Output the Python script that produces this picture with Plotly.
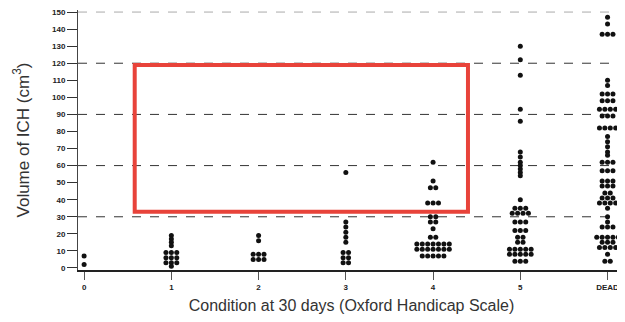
import plotly.graph_objects as go

# ---- data ----
categories = ["0", "1", "2", "3", "4", "5", "DEAD"]

vol_0 = [7, 2]
vol_1 = [19, 17, 15, 13, 9, 9, 9, 6, 6, 6, 3, 3, 3, 1]
vol_2 = [19, 16, 8, 8, 8, 5, 5, 5]
vol_3 = [56, 27, 24, 21, 18, 15, 9, 9, 6, 6, 3, 3]
vol_4 = [62, 51, 47, 47, 38, 38, 38, 30, 30, 27, 27, 23, 18, 18,
         14, 14, 14, 14, 14, 14, 14, 11, 11, 11, 11, 11, 11, 11,
         7, 7, 7, 7, 7]
vol_5 = [130, 122, 113, 93, 86, 68, 65, 62, 60, 58, 56, 54, 40,
         35, 35, 35, 32, 32, 32, 32, 27, 27, 27, 22, 22, 22, 18, 18,
         15, 15, 11, 11, 11, 11, 11, 8, 8, 8, 8, 8, 4, 4, 4]
vol_dead = [147, 143, 137, 137, 137, 110, 107, 102, 102, 102, 98, 98, 98,
            93, 93, 93, 93, 89, 89, 89, 82, 82, 82, 82, 77, 74, 71, 68, 66,
            62, 62, 62, 57, 57, 57, 51, 51, 51, 48, 48, 48, 44, 44,
            41, 41, 41, 38, 38, 38, 38, 35, 30, 27, 24, 24, 24,
            18, 18, 18, 18, 18, 15, 15, 15, 12, 12, 12, 12, 8, 4, 4]

groups = [vol_0, vol_1, vol_2, vol_3, vol_4, vol_5, vol_dead]

grid_values = [30, 60, 90, 120, 150]
y_ticks = list(range(0, 151, 10))

# highlight box (data coords)
box_x = [0.58, 4.40]
box_y = [33, 119]

# ---- dot-plot layout: rows of equal values spread horizontally ----
xs, ys = [], []
step = 0.062
for gi, vals in enumerate(groups):
    rows = {}
    for v in vals:
        rows.setdefault(v, 0)
        rows[v] += 1
    for v, n in rows.items():
        for k in range(n):
            xs.append(gi + (k - (n - 1) / 2) * step)
            ys.append(v)

fig = go.Figure()
fig.add_trace(go.Scatter(
    x=xs, y=ys, mode="markers",
    marker=dict(color="#111111", size=5, line=dict(width=0)),
    showlegend=False, hoverinfo="skip"))

for g in grid_values:
    fig.add_shape(type="line", xref="paper", yref="y",
                  x0=0, x1=1, y0=g, y1=g,
                  line=dict(color="#333333" if g < 150 else "#aaaaaa",
                            width=1, dash="dash"), layer="below")

fig.add_shape(type="rect", xref="x", yref="y",
              x0=box_x[0], x1=box_x[1], y0=box_y[0], y1=box_y[1],
              line=dict(color="#e8433a", width=4), fillcolor="rgba(0,0,0,0)")

fig.update_layout(
    width=617, height=314,
    margin=dict(l=70, r=0, t=2, b=52),
    paper_bgcolor="white", plot_bgcolor="white",
    font=dict(family="Liberation Sans, Arial, sans-serif", color="#222222"),
    xaxis=dict(
        range=[-0.07, 6.2], showgrid=False, zeroline=False, automargin=False,
        tickvals=list(range(len(categories))),
        ticktext=["<b>%s</b>" % c for c in categories],
        ticks="outside", ticklen=8, tickcolor="#555555",
        tickfont=dict(size=8, color="#222222"),
        ticklabeloverflow="allow",
        showline=True, linecolor="#222222", linewidth=2,
        title=dict(text="Condition at 30 days (Oxford Handicap Scale)",
                   font=dict(size=16, color="#333333"), standoff=9),
    ),
    yaxis=dict(
        range=[-1.2, 151.2], showgrid=False, zeroline=False, automargin=False,
        tickvals=y_ticks, ticktext=["<b>%d</b>" % t for t in y_ticks],
        ticks="outside", ticklen=10, tickcolor="#333333",
        tickfont=dict(size=8, color="#222222"),
        ticklabeloverflow="allow",
        showline=True, linecolor="#444444", linewidth=1,
        title=dict(text="Volume of ICH (cm<sup>3</sup>)",
                   font=dict(size=17, color="#333333"), standoff=18),
    ),
)

fig.write_html("out.html")
